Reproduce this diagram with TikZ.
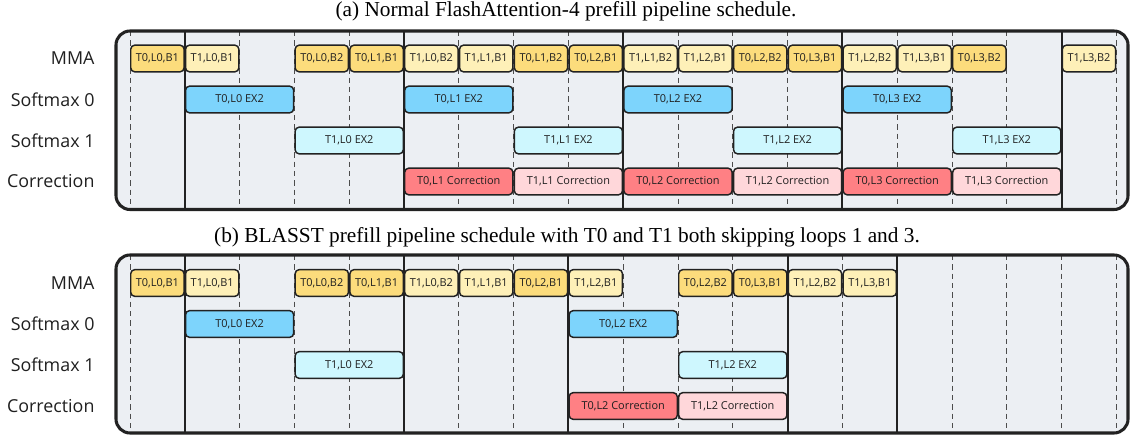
\documentclass[tikz,border=0pt]{standalone}
\usepackage{fontspec}
\setmainfont{Liberation Serif}
\newfontfamily\boxfont{Open Sans}

\definecolor{panelbg}{RGB}{236,239,243}
\definecolor{mmadarkc}{RGB}{252,220,124}
\definecolor{mmalightc}{RGB}{254,240,184}
\definecolor{smzeroc}{RGB}{125,212,252}
\definecolor{smonec}{RGB}{206,247,254}
\definecolor{corrdarkc}{RGB}{255,128,132}
\definecolor{corrlightc}{RGB}{255,215,218}
\definecolor{inkc}{RGB}{34,34,34}

\tikzset{every picture/.style={line width=0.75pt}}
\tikzset{
  slot/.style={draw=inkc, rounded corners=3pt, line width=1.1pt, minimum height=20pt, inner sep=0pt, font=\boxfont\fontsize{8.2}{9}\selectfont, text=black!88},
  slotone/.style={slot, minimum width=40pt},
  slottwo/.style={slot, minimum width=81.1pt},
  mmadark/.style={slotone, fill=mmadarkc},
  mmalight/.style={slotone, fill=mmalightc},
  smzero/.style={slottwo, fill=smzeroc},
  smone/.style={slottwo, fill=smonec},
  corrdark/.style={slottwo, fill=corrdarkc},
  corrlight/.style={slottwo, fill=corrlightc},
  rowlabel/.style={anchor=east, inner sep=0pt, font=\boxfont\fontsize{13.4}{15}\selectfont, text=black!88},
  capt/.style={anchor=base, inner sep=0pt, font=\fontsize{16}{19}\selectfont},
  griddash/.style={draw=black!70, line width=0.75pt, dash pattern=on 4pt off 3pt},
  gridsolid/.style={draw=inkc, line width=1.5pt},
  panel/.style={draw=inkc, line width=2.3pt, rounded corners=10.5pt}
}

\begin{document}
\begin{tikzpicture}[x=0.75pt,y=0.75pt,yscale=-1,xscale=1]
\useasboundingbox (0,0) rectangle (1130,438);

% Captions
\draw (566,17) node [capt] (captA) {(a) Normal FlashAttention-4 prefill pipeline schedule.};
\draw (567,242.5) node [capt] (captB) {(b) BLASST prefill pipeline schedule with T0 and T1 both skipping loops 1 and 3.};

%%%%%%%%%%%%%%%%%%%%%%%% panel (a)
%Shape: Rounded Rectangle
\fill [panelbg, rounded corners=10.5pt] (116,31) rectangle (1128,209.5) ;
%Straight Lines
\draw [griddash] (130,31) -- (130,209.5) ;
\draw [gridsolid] (184.8,31) -- (184.8,209.5) ;
\draw [griddash] (239.6,31) -- (239.6,209.5) ;
\draw [griddash] (294.4,31) -- (294.4,209.5) ;
\draw [griddash] (349.2,31) -- (349.2,209.5) ;
\draw [gridsolid] (404,31) -- (404,209.5) ;
\draw [griddash] (458.8,31) -- (458.8,209.5) ;
\draw [griddash] (513.6,31) -- (513.6,209.5) ;
\draw [griddash] (568.4,31) -- (568.4,209.5) ;
\draw [gridsolid] (623.2,31) -- (623.2,209.5) ;
\draw [griddash] (678,31) -- (678,209.5) ;
\draw [griddash] (732.8,31) -- (732.8,209.5) ;
\draw [griddash] (787.6,31) -- (787.6,209.5) ;
\draw [gridsolid] (842.4,31) -- (842.4,209.5) ;
\draw [griddash] (897.2,31) -- (897.2,209.5) ;
\draw [griddash] (952,31) -- (952,209.5) ;
\draw [griddash] (1006.8,31) -- (1006.8,209.5) ;
\draw [gridsolid] (1061.6,31) -- (1061.6,209.5) ;
\draw [griddash] (1116.4,31) -- (1116.4,209.5) ;
%Shape: Rounded Rectangle
\draw [panel] (116,31) rectangle (1128,209.5) ;

% Text Node
\draw (95,58.5) node [rowlabel] (aLabMMA) {MMA};
\draw (95,99.5) node [rowlabel] (aLabSm0) {Softmax 0};
\draw (95,140.5) node [rowlabel] (aLabSm1) {Softmax 1};
\draw (95,181.5) node [rowlabel] (aLabCorr) {Correction};

% MMA row
\draw (157.4,58.5) node [mmadark] (aMMA0) {T0,L0,B1};
\draw (212.2,58.5) node [mmalight] (aMMA1) {T1,L0,B1};
\draw (321.8,58.5) node [mmadark] (aMMA3) {T0,L0,B2};
\draw (376.6,58.5) node [mmadark] (aMMA4) {T0,L1,B1};
\draw (431.4,58.5) node [mmalight] (aMMA5) {T1,L0,B2};
\draw (486.2,58.5) node [mmalight] (aMMA6) {T1,L1,B1};
\draw (541,58.5) node [mmadark] (aMMA7) {T0,L1,B2};
\draw (595.8,58.5) node [mmadark] (aMMA8) {T0,L2,B1};
\draw (650.6,58.5) node [mmalight] (aMMA9) {T1,L1,B2};
\draw (705.4,58.5) node [mmalight] (aMMA10) {T1,L2,B1};
\draw (760.2,58.5) node [mmadark] (aMMA11) {T0,L2,B2};
\draw (815,58.5) node [mmadark] (aMMA12) {T0,L3,B1};
\draw (869.8,58.5) node [mmalight] (aMMA13) {T1,L2,B2};
\draw (924.6,58.5) node [mmalight] (aMMA14) {T1,L3,B1};
\draw (979.4,58.5) node [mmadark] (aMMA15) {T0,L3,B2};
\draw (1089,58.5) node [mmalight] (aMMA17) {T1,L3,B2};

% Softmax 0 row
\draw (239.6,99.5) node [smzero] (aSmA0) {T0,L0 EX2};
\draw (458.8,99.5) node [smzero] (aSmA1) {T0,L1 EX2};
\draw (678,99.5) node [smzero] (aSmA2) {T0,L2 EX2};
\draw (897.2,99.5) node [smzero] (aSmA3) {T0,L3 EX2};

% Softmax 1 row
\draw (349.2,140.5) node [smone] (aSmB0) {T1,L0 EX2};
\draw (568.4,140.5) node [smone] (aSmB1) {T1,L1 EX2};
\draw (787.6,140.5) node [smone] (aSmB2) {T1,L2 EX2};
\draw (1006.8,140.5) node [smone] (aSmB3) {T1,L3 EX2};

% Correction row
\draw (458.8,181.5) node [corrdark] (aCorrA1) {T0,L1 Correction};
\draw (568.4,181.5) node [corrlight] (aCorrB1) {T1,L1 Correction};
\draw (678,181.5) node [corrdark] (aCorrA2) {T0,L2 Correction};
\draw (787.6,181.5) node [corrlight] (aCorrB2) {T1,L2 Correction};
\draw (897.2,181.5) node [corrdark] (aCorrA3) {T0,L3 Correction};
\draw (1006.8,181.5) node [corrlight] (aCorrB3) {T1,L3 Correction};

%%%%%%%%%%%%%%%%%%%%%%%% panel (b)
%Shape: Rounded Rectangle
\fill [panelbg, rounded corners=10.5pt] (116,255) rectangle (1128,433) ;
%Straight Lines
\draw [griddash] (130,255) -- (130,433) ;
\draw [gridsolid] (184.8,255) -- (184.8,433) ;
\draw [griddash] (239.6,255) -- (239.6,433) ;
\draw [griddash] (294.4,255) -- (294.4,433) ;
\draw [griddash] (349.2,255) -- (349.2,433) ;
\draw [gridsolid] (404,255) -- (404,433) ;
\draw [griddash] (458.8,255) -- (458.8,433) ;
\draw [griddash] (513.6,255) -- (513.6,433) ;
\draw [gridsolid] (568.4,255) -- (568.4,433) ;
\draw [griddash] (623.2,255) -- (623.2,433) ;
\draw [griddash] (678,255) -- (678,433) ;
\draw [griddash] (732.8,255) -- (732.8,433) ;
\draw [gridsolid] (787.6,255) -- (787.6,433) ;
\draw [griddash] (842.4,255) -- (842.4,433) ;
\draw [gridsolid] (897.2,255) -- (897.2,433) ;
\draw [griddash] (952,255) -- (952,433) ;
\draw [griddash] (1006.8,255) -- (1006.8,433) ;
\draw [griddash] (1061.6,255) -- (1061.6,433) ;
\draw [griddash] (1116.4,255) -- (1116.4,433) ;
%Shape: Rounded Rectangle
\draw [panel] (116,255) rectangle (1128,433) ;

% Text Node
\draw (95,283) node [rowlabel] (bLabMMA) {MMA};
\draw (95,324) node [rowlabel] (bLabSm0) {Softmax 0};
\draw (95,365) node [rowlabel] (bLabSm1) {Softmax 1};
\draw (95,406) node [rowlabel] (bLabCorr) {Correction};

% MMA row
\draw (157.4,283) node [mmadark] (bMMA0) {T0,L0,B1};
\draw (212.2,283) node [mmalight] (bMMA1) {T1,L0,B1};
\draw (321.8,283) node [mmadark] (bMMA3) {T0,L0,B2};
\draw (376.6,283) node [mmadark] (bMMA4) {T0,L1,B1};
\draw (431.4,283) node [mmalight] (bMMA5) {T1,L0,B2};
\draw (486.2,283) node [mmalight] (bMMA6) {T1,L1,B1};
\draw (541,283) node [mmadark] (bMMA7) {T0,L2,B1};
\draw (595.8,283) node [mmalight] (bMMA8) {T1,L2,B1};
\draw (705.4,283) node [mmadark] (bMMA10) {T0,L2,B2};
\draw (760.2,283) node [mmadark] (bMMA11) {T0,L3,B1};
\draw (815,283) node [mmalight] (bMMA12) {T1,L2,B2};
\draw (869.8,283) node [mmalight] (bMMA13) {T1,L3,B1};

% Softmax 0 row
\draw (239.6,324) node [smzero] (bSmA0) {T0,L0 EX2};
\draw (623.2,324) node [smzero] (bSmA2) {T0,L2 EX2};

% Softmax 1 row
\draw (349.2,365) node [smone] (bSmB0) {T1,L0 EX2};
\draw (732.8,365) node [smone] (bSmB2) {T1,L2 EX2};

% Correction row
\draw (623.2,406) node [corrdark] (bCorrA2) {T0,L2 Correction};
\draw (732.8,406) node [corrlight] (bCorrB2) {T1,L2 Correction};

\end{tikzpicture}
\end{document}
